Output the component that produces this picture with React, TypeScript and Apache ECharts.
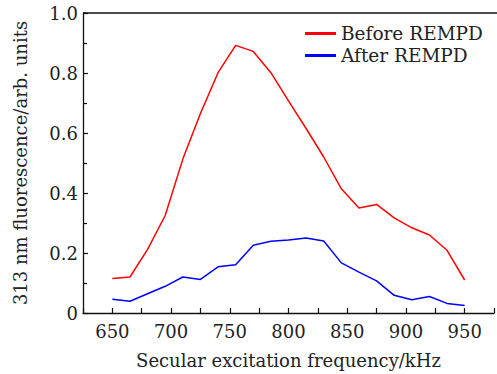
import React, { useEffect, useRef } from "react";
import * as echarts from "echarts";

// Secular excitation frequency (kHz)
const frequencies = [650, 665, 680, 695, 710, 725, 740, 755, 770, 785, 800, 815, 830, 845, 860, 875, 890, 905, 920, 935, 950];
// 313 nm fluorescence before / after REMPD (arb. units)
const beforeREMPD = [0.115, 0.12, 0.212, 0.325, 0.513, 0.665, 0.801, 0.892, 0.872, 0.801, 0.707, 0.615, 0.52, 0.414, 0.35, 0.362, 0.317, 0.284, 0.26, 0.209, 0.11];
const afterREMPD = [0.046, 0.039, 0.064, 0.089, 0.12, 0.112, 0.154, 0.161, 0.226, 0.239, 0.243, 0.25, 0.24, 0.167, 0.136, 0.107, 0.059, 0.044, 0.055, 0.032, 0.025];
const seriesNames = ["Before REMPD", "After REMPD"];

const FONT = "'DejaVu Serif', serif";

export default function App() {
  const ref = useRef<HTMLDivElement>(null);
  useEffect(() => {
    if (!ref.current) return;
    const chart = echarts.init(ref.current, null, { renderer: "svg" });
    const pair = (ys: number[]) => frequencies.map((f, i) => [f, ys[i]]);
    chart.setOption({
      animation: false,
      backgroundColor: "#fff",
      textStyle: { fontFamily: FONT, color: "#222" },
      grid: { left: 83, top: 13, width: 416, bottom: 58 },
      legend: {
        top: 19,
        left: 300,
        orient: "vertical",
        itemWidth: 31,
        itemHeight: 3,
        itemGap: 3,
        icon: "rect",
        textStyle: { fontFamily: FONT, fontSize: 18.5, color: "#222" },
        data: seriesNames,
      },
      xAxis: {
        type: "value",
        min: 625,
        max: 975,
        interval: 25,
        name: "Secular excitation frequency/kHz",
        nameLocation: "middle",
        nameGap: 38,
        nameTextStyle: { fontFamily: FONT, fontSize: 18, color: "#222" },
        axisLine: { show: true, onZero: false, lineStyle: { color: "#111", width: 1.3 } },
        axisTick: { show: true, inside: true, length: 5, lineStyle: { color: "#111", width: 1.2 } },
        axisLabel: {
          fontFamily: FONT,
          fontSize: 18,
          color: "#222",
          margin: 9,
          formatter: (v: number) => (v % 50 === 0 && v >= 650 && v <= 950 ? String(v) : ""),
        },
        splitLine: { show: false },
      },
      yAxis: {
        type: "value",
        min: 0,
        max: 1,
        interval: 0.2,
        name: "313 nm fluorescence/arb. units",
        nameLocation: "middle",
        nameGap: 54,
        nameTextStyle: { fontFamily: FONT, fontSize: 18, color: "#222" },
        axisLine: { show: true, lineStyle: { color: "#111", width: 1.3 } },
        axisTick: { show: true, inside: true, length: 5, lineStyle: { color: "#111", width: 1.2 } },
        minorTick: { show: true, splitNumber: 2, length: 4, lineStyle: { color: "#111", width: 1.2 } },
        axisLabel: {
          fontFamily: FONT,
          fontSize: 18,
          color: "#222",
          margin: 5,
          formatter: (v: number) => (v === 0 ? "0" : v.toFixed(1)),
        },
        splitLine: { show: false },
      },
      graphic: [
        {
          type: "line",
          shape: { x1: 83, y1: 13, x2: 499, y2: 13 },
          style: { stroke: "#111", lineWidth: 1.3 },
        },
      ],
      series: [
        {
          name: seriesNames[0],
          type: "line",
          data: pair(beforeREMPD),
          showSymbol: false,
          lineStyle: { color: "#ff0000", width: 1.5 },
          itemStyle: { color: "#ff0000" },
        },
        {
          name: seriesNames[1],
          type: "line",
          data: pair(afterREMPD),
          showSymbol: false,
          lineStyle: { color: "#0000ff", width: 1.5 },
          itemStyle: { color: "#0000ff" },
        },
      ],
    });
    return () => chart.dispose();
  }, []);
  return <div ref={ref} style={{ width: 497, height: 374, position: "absolute", left: 0, top: 0 }} />;
}
